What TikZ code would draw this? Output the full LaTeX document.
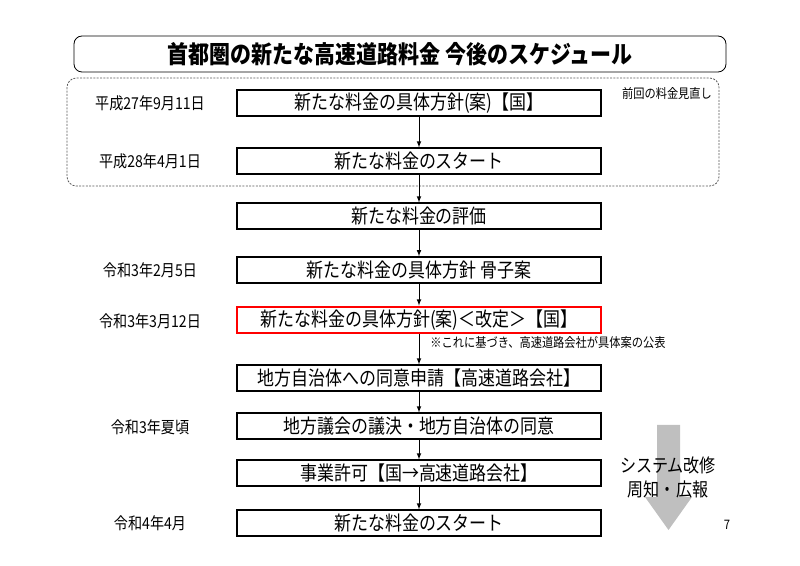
\documentclass[tikz,border=0pt]{standalone}
\usepackage{fontspec}
\setmainfont{Noto Sans CJK JP}[FakeStretch=0.86]
\usepackage{tikz}
\usetikzlibrary{arrows,positioning}

\begin{document}
\begin{tikzpicture}[x=0.75pt, y=-0.75pt,
	box/.style={draw, line width=0.9pt, minimum width=273pt, minimum height=19.5pt, inner sep=0pt, font=\fontsize{14.8}{14.8}\selectfont},
	date/.style={font=\fontsize{12.3}{12.3}\selectfont},
	small/.style={font=\fontsize{9.8}{9.8}\selectfont},
	link/.style={draw, line width=0.6pt, ->, >=latex}]
	\useasboundingbox (0,0) rectangle (800,566);

	% title and the dotted frame of the previous revision
	\draw[rounded corners=6pt, line width=0.6pt] (74,36) rectangle (726,72);
	\node ({title}) at (400,54) {\fontsize{18.3}{18.3}\selectfont\bfseries 首都圏の新たな高速道路料金\ 今後のスケジュール};
	\draw[rounded corners=7pt, line width=0.6pt, gray!70!black, dash pattern=on 1.5pt off 1pt] (67,78) rectangle (719,186);
	\node ({prev}) [small] at (667,94) {前回の料金見直し};

	% the steps
	\node ({hoshin}) [box] at (419,103) {新たな料金の具体方針(案)【国】};
	\node ({start1}) [box] at (419,161) {新たな料金のスタート};
	\node ({hyoka}) [box] at (419,216) {新たな料金の評価};
	\node ({kosshi}) [box, line width=1.2pt] at (419,270) {新たな料金の具体方針 骨子案};
	\node ({kaitei}) [box, draw=red, line width=2.2pt] at (419,320) {新たな料金の具体方針(案)＜改定＞【国】};
	\node ({shinsei}) [box] at (419,378) {地方自治体への同意申請【高速道路会社】};
	\node ({doi}) [box] at (419,426) {地方議会の議決・地方自治体の同意};
	\node ({kyoka}) [box] at (419,473) {事業許可【国→高速道路会社】};
	\node ({start2}) [box] at (419,523) {新たな料金のスタート};

	% dates
	\node ({d1}) [date] at (150,103) {平成27年9月11日};
	\node ({d2}) [date] at (150,161) {平成28年4月1日};
	\node ({d3}) [date] at (150,270) {令和3年2月5日};
	\node ({d4}) [date] at (150,321) {令和3年3月12日};
	\node ({d5}) [date] at (150,427) {令和3年夏頃};
	\node ({d6}) [date] at (150,523) {令和4年4月};

	\node ({note}) [small] at (548,343) {※これに基づき、高速道路会社が具体案の公表};

	\draw[link] (hoshin) -- (start1);
	\draw[link] (start1) -- (hyoka);
	\draw[link] (hyoka) -- (kosshi);
	\draw[link] (kosshi) -- (kaitei);
	\draw[link] (kaitei) -- (shinsei);
	\draw[link] (shinsei) -- (doi);
	\draw[link] (doi) -- (kyoka);
	\draw[link] (kyoka) -- (start2);

	% system work runs alongside
	\fill[gray!50] (657,425) -- (680,425) -- (680,497) -- (692,497) -- (668.5,530) -- (645,497) -- (657,497) -- cycle;
	\node ({sys}) [align=center, font=\fontsize{14}{18}\selectfont] at (668,477) {システム改修\\周知・広報};
	\node ({page}) [small] at (727,525) {7};
\end{tikzpicture}
\end{document}
